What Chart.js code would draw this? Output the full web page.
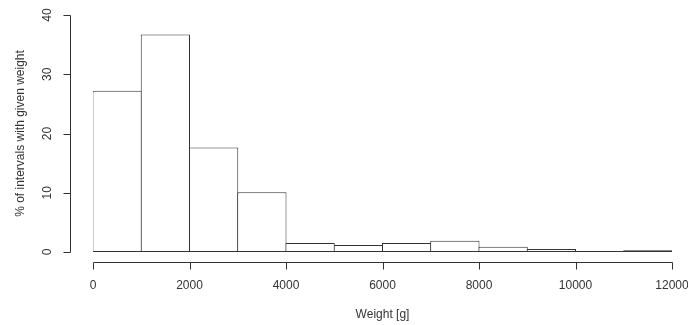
<!DOCTYPE html>
<html>
<head>
<meta charset="utf-8">
<script src="https://cdn.jsdelivr.net/npm/chart.js@4/dist/chart.umd.min.js"></script>
<style>
  html, body { margin: 0; padding: 0; background: #fff; }
  #chart { display: block; }
</style>
</head>
<body>
<canvas id="chart" width="688" height="325"></canvas>
<script>
// histogram bins (centre of each 1000 g interval) and their share in %
const binCenters = [500, 1500, 2500, 3500, 4500, 5500, 6500, 7500, 8500, 9500, 10500, 11500];
const percents = [27.2, 36.7, 17.65, 10.1, 1.5, 1.2, 1.5, 1.9, 0.9, 0.5, 0, 0.3];
const xTicks = [0, 2000, 4000, 6000, 8000, 10000, 12000];
const yTicks = [0, 10, 20, 30, 40];

const FONT = '"Liberation Sans", Arial, sans-serif';
const INK = '#333';

// R style axes: detached from the plot region
const rAxes = {
  id: 'rAxes',
  afterDraw(chart) {
    const { ctx, chartArea, scales } = chart;
    const xs = scales.x, ys = scales.y;
    const axisX = Math.round(chartArea.left - 23) + 0.5;
    const axisY = Math.round(chartArea.bottom + 10) + 0.5;
    ctx.save();
    ctx.strokeStyle = INK;
    ctx.lineWidth = 1;

    // y axis
    ctx.beginPath();
    ctx.moveTo(axisX, Math.round(ys.getPixelForValue(0)) + 0.5);
    ctx.lineTo(axisX, Math.round(ys.getPixelForValue(40)) + 0.5);
    yTicks.forEach(v => {
      const py = Math.round(ys.getPixelForValue(v)) + 0.5;
      ctx.moveTo(axisX, py);
      ctx.lineTo(axisX - 7, py);
    });
    ctx.stroke();

    ctx.fillStyle = INK;
    ctx.font = '12px ' + FONT;
    ctx.textAlign = 'center';
    ctx.textBaseline = 'middle';
    yTicks.forEach(v => {
      const py = ys.getPixelForValue(v);
      ctx.save();
      ctx.translate(48, py);
      ctx.rotate(-Math.PI / 2);
      ctx.fillText(String(v), 0, 0);
      ctx.restore();
    });

    // x axis
    ctx.beginPath();
    ctx.moveTo(Math.round(xs.getPixelForValue(0)) + 0.5, axisY);
    ctx.lineTo(Math.round(xs.getPixelForValue(12000)) + 0.5, axisY);
    xTicks.forEach(v => {
      const px = Math.round(xs.getPixelForValue(v)) + 0.5;
      ctx.moveTo(px, axisY);
      ctx.lineTo(px, axisY + 7);
    });
    ctx.stroke();
    ctx.restore();
  }
};

new Chart(document.getElementById('chart'), {
  type: 'bar',
  data: {
    datasets: [{
      data: binCenters.map((c, i) => ({ x: c, y: percents[i] })),
      backgroundColor: '#fff',
      borderColor: INK,
      borderWidth: 1,
      borderSkipped: false,
      barPercentage: 1.021,
      categoryPercentage: 1,
      minBarLength: 1
    }]
  },
  options: {
    responsive: false,
    animation: false,
    layout: { padding: { left: 0, top: 15, right: 16, bottom: 0 } },
    plugins: { legend: { display: false }, tooltip: { enabled: false } },
    scales: {
      x: {
        type: 'linear',
        offset: false,
        min: 0,
        max: 12000,
        afterBuildTicks: s => { s.ticks = xTicks.map(v => ({ value: v })); },
        afterFit: s => {
          s.height = 73;
          s.paddingLeft = 0;
          s.paddingRight = 0;
        },
        grid: { display: false, drawTicks: false },
        border: { display: false },
        ticks: {
          padding: 26,
          color: INK,
          font: { family: FONT, size: 12 },
          maxRotation: 0,
          autoSkip: false,
          callback: v => String(v)
        },
        title: {
          display: true,
          text: 'Weight [g]',
          color: INK,
          font: { family: FONT, size: 12 },
          padding: { top: 0, bottom: 3 }
        }
      },
      y: {
        min: 0,
        max: 40,
        afterFit: s => { s.width = 93; },
        grid: { display: false, drawTicks: false },
        border: { display: false },
        ticks: { display: false },
        title: {
          display: true,
          text: '% of intervals with given weight',
          color: INK,
          font: { family: FONT, size: 12 },
          padding: { top: 13, bottom: 0 }
        }
      }
    }
  },
  plugins: [rAxes]
});
</script>
</body>
</html>
